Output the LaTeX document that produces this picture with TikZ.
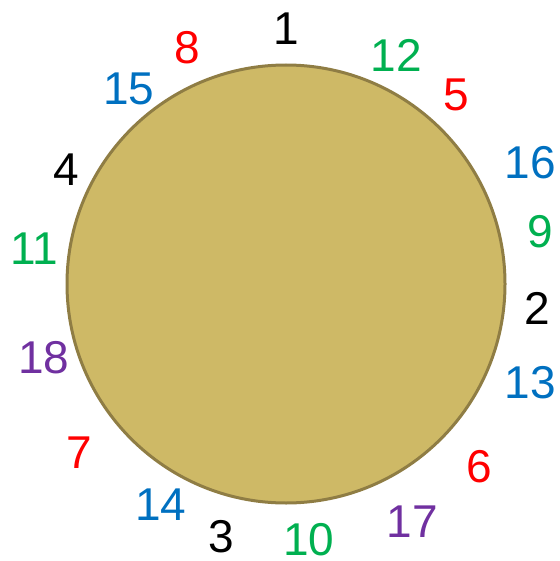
\documentclass[tikz,border=0pt]{standalone}
\usepackage{fontspec}
\setmainfont{Liberation Sans}
\definecolor{numblue}{RGB}{0,112,192}
\definecolor{numgreen}{RGB}{0,176,80}
\definecolor{numred}{RGB}{255,0,0}
\definecolor{numpurple}{RGB}{112,48,160}
\definecolor{discfill}{RGB}{206,185,102}
\definecolor{discline}{RGB}{143,125,68}
\tikzset{num/.style={inner sep=0pt,font=\fontsize{46}{46}\selectfont}}
\begin{document}
\begin{tikzpicture}[x=1pt,y=-1pt]
\useasboundingbox (0,0) rectangle (559,561);
\filldraw[fill=discfill,draw=discline,line width=3pt] (286,284) circle(219);
\foreach \x/\y/\t/\c in {286/29/1/black, 396/55/12/numgreen, 456/95/5/numred, 530/163/16/numblue,
  540/232/9/numgreen, 537/308/2/black, 530/383/13/numblue, 479/467/6/numred, 412/522/17/numpurple,
  309/540/10/numgreen, 221/537/3/black, 161/505/14/numblue, 79/453/7/numred, 44/358/18/numpurple,
  34/249/11/numgreen, 66/170/4/black, 129/89/15/numblue, 187/48/8/numred}
  \node[num,text=\c] (n\t) at (\x,\y) {\t};
\end{tikzpicture}
\end{document}
